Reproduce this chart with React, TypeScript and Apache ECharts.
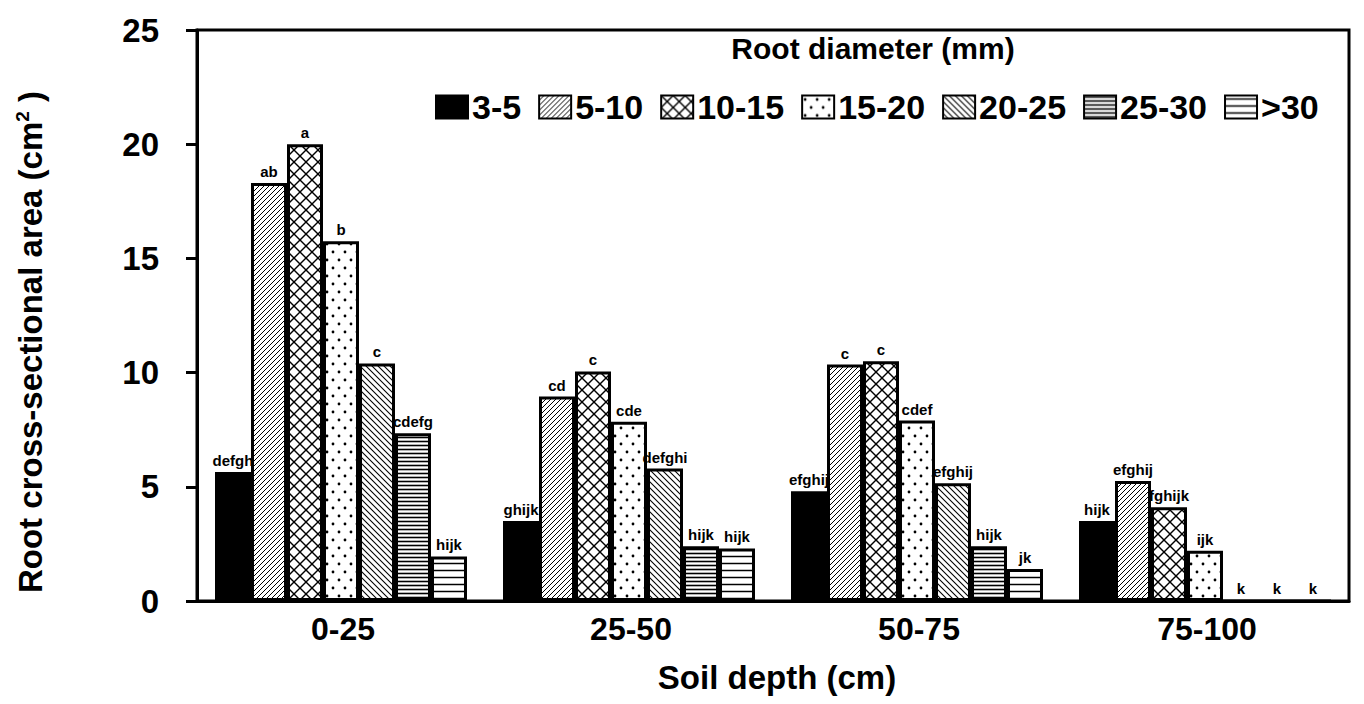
import React, { useEffect, useRef } from 'react';
import * as echarts from 'echarts';

const depths = ['0-25', '25-50', '50-75', '75-100'];
const diameterClasses = ['3-5', '5-10', '10-15', '15-20', '20-25', '25-30', '>30'];

const area3to5 = [5.65, 3.5, 4.8, 3.5];
const area5to10 = [18.3, 8.95, 10.35, 5.25];
const area10to15 = [20.0, 10.05, 10.5, 4.1];
const area15to20 = [15.75, 7.85, 7.9, 2.2];
const area20to25 = [10.4, 5.8, 5.15, 0];
const area25to30 = [7.35, 2.4, 2.4, 0];
const areaOver30 = [1.95, 2.3, 1.4, 0];

const letters3to5 = ['defgh', 'ghijk', 'efghij', 'hijk'];
const letters5to10 = ['ab', 'cd', 'c', 'efghij'];
const letters10to15 = ['a', 'c', 'c', 'fghijk'];
const letters15to20 = ['b', 'cde', 'cdef', 'ijk'];
const letters20to25 = ['c', 'defghi', 'efghij', 'k'];
const letters25to30 = ['cdefg', 'hijk', 'hijk', 'k'];
const lettersOver30 = ['hijk', 'hijk', 'jk', 'k'];

const yTicks = [0, 5, 10, 15, 20, 25];

const FONT = '"Liberation Sans", Arial, Helvetica, sans-serif';

function makeTile(w: number, h: number, draw: (ctx: CanvasRenderingContext2D) => void) {
  const c = document.createElement('canvas');
  c.width = w;
  c.height = h;
  const ctx = c.getContext('2d') as CanvasRenderingContext2D;
  ctx.fillStyle = '#fff';
  ctx.fillRect(0, 0, w, h);
  ctx.strokeStyle = '#000';
  ctx.fillStyle = '#000';
  draw(ctx);
  return { image: c, repeat: 'repeat', imageWidth: w, imageHeight: h } as any;
}

function line(ctx: CanvasRenderingContext2D, x1: number, y1: number, x2: number, y2: number) {
  ctx.beginPath();
  ctx.moveTo(x1, y1);
  ctx.lineTo(x2, y2);
  ctx.stroke();
}

function buildPatterns() {
  const slash = makeTile(5, 5, (ctx) => {
    ctx.lineWidth = 1;
    line(ctx, -1, 6, 6, -1);
    line(ctx, -2, 2, 2, -2);
    line(ctx, 3, 7, 7, 3);
  });
  const cross = makeTile(12, 12, (ctx) => {
    ctx.lineWidth = 1.4;
    line(ctx, -1, -1, 13, 13);
    line(ctx, -1, 13, 13, -1);
    line(ctx, -2, 10, 2, 14);
    line(ctx, 10, -2, 14, 2);
    line(ctx, -2, 2, 2, -2);
    line(ctx, 10, 14, 14, 10);
  });
  const dots = makeTile(12, 16, (ctx) => {
    ctx.beginPath();
    ctx.arc(3, 4, 1.4, 0, Math.PI * 2);
    ctx.fill();
    ctx.beginPath();
    ctx.arc(9, 12, 1.4, 0, Math.PI * 2);
    ctx.fill();
  });
  const backslash = makeTile(6, 6, (ctx) => {
    ctx.lineWidth = 1.1;
    line(ctx, -1, -1, 7, 7);
    line(ctx, -2, 4, 2, 8);
    line(ctx, 4, -2, 8, 2);
  });
  const denseH = makeTile(8, 4, (ctx) => {
    ctx.lineWidth = 1.6;
    line(ctx, 0, 1.5, 8, 1.5);
  });
  const sparseH = makeTile(8, 7, (ctx) => {
    ctx.lineWidth = 1.5;
    line(ctx, 0, 3.5, 8, 3.5);
  });
  return ['#000', slash, cross, dots, backslash, denseH, sparseH];
}

export default function App() {
  const ref = useRef<HTMLDivElement>(null);

  useEffect(() => {
    document.body.style.margin = '0';
    const chart = echarts.init(ref.current as HTMLDivElement, undefined, { renderer: 'svg' });
    const fills = buildPatterns();
    const values = [area3to5, area5to10, area10to15, area15to20, area20to25, area25to30, areaOver30];
    const letters = [letters3to5, letters5to10, letters10to15, letters15to20, letters20to25, letters25to30, lettersOver30];

    const series = diameterClasses.map((name, i) => ({
      name,
      type: 'bar',
      data: values[i],
      barWidth: 36,
      barGap: '0%',
      itemStyle: { color: fills[i], borderColor: '#000', borderWidth: 3 },
      label: {
        show: true,
        position: 'top',
        distance: 4,
        color: '#000',
        fontFamily: FONT,
        fontWeight: 'bold',
        fontSize: 15,
        formatter: (p: any) => letters[i][p.dataIndex],
      },
    }));

    chart.setOption({
      animation: false,
      backgroundColor: '#fff',
      graphic: [
        {
          type: 'text',
          x: 873,
          y: 48,
          style: {
            text: 'Root diameter (mm)',
            align: 'center',
            verticalAlign: 'middle',
            font: `bold 30px ${FONT}`,
            fill: '#000',
          },
        },
        {
          type: 'text',
          x: 30,
          y: 342,
          rotation: Math.PI / 2,
          style: {
            text: 'Root cross-sectional area (cm{sup|2} )',
            align: 'center',
            verticalAlign: 'middle',
            font: `bold 33px ${FONT}`,
            fill: '#000',
            rich: {
              sup: { font: `bold 19px ${FONT}`, fill: '#000', padding: [0, 0, 16, 0] },
            },
          },
        },
      ],
      legend: {
        data: diameterClasses,
        left: 430,
        top: 85,
        icon: 'rect',
        itemWidth: 32,
        itemHeight: 23,
        itemGap: 17,
        itemStyle: { borderColor: '#000', borderWidth: 2 },
        textStyle: { fontFamily: FONT, fontWeight: 'bold', fontSize: 34, color: '#000', padding: [0, 0, 0, -1] },
      },
      grid: {
        left: 197,
        right: 15,
        top: 30,
        bottom: 103,
        show: true,
        borderColor: '#000',
        borderWidth: 3,
      },
      xAxis: {
        type: 'category',
        data: depths,
        name: 'Soil depth (cm)',
        nameLocation: 'middle',
        nameGap: 60,
        nameMoveOverlap: false,
        nameTextStyle: { fontFamily: FONT, fontWeight: 'bold', fontSize: 33, color: '#000', padding: [0, 0, 0, 8] },
        axisLine: { lineStyle: { color: '#000', width: 3 } },
        axisTick: { show: false },
        axisLabel: {
          margin: 12,
          padding: [0, 0, 0, 4],
          fontFamily: FONT,
          fontWeight: 'bold',
          fontSize: 32,
          color: '#000',
        },
      },
      yAxis: {
        type: 'value',
        min: yTicks[0],
        max: yTicks[yTicks.length - 1],
        interval: 5,
        splitLine: { show: false },
        axisLine: { show: true, lineStyle: { color: '#000', width: 3 } },
        axisTick: { show: true, inside: false, length: 11, lineStyle: { color: '#000', width: 3 } },
        axisLabel: { margin: 38, fontFamily: FONT, fontWeight: 'bold', fontSize: 33, color: '#000' },
      },
      series,
    } as any);

    return () => chart.dispose();
  }, []);

  return <div ref={ref} style={{ width: 1364, height: 704 }} />;
}
